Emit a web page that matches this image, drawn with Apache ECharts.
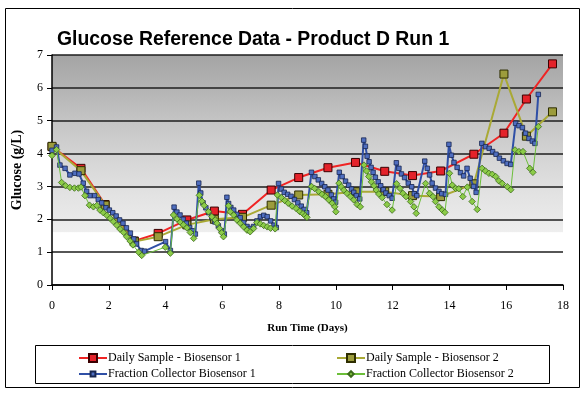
<!DOCTYPE html>
<html>
<head>
<meta charset="utf-8">
<script src="https://cdn.jsdelivr.net/npm/echarts@6/dist/echarts.min.js"></script>
<style>
html,body{margin:0;padding:0;background:#fff;}
#chart{width:586px;height:396px;}
</style>
</head>
<body>
<div id="chart"></div>
<script>
// ---- Data ----
const titleText = 'Glucose Reference Data - Product D Run 1';
const seriesNames = ['Daily Sample - Biosensor 1', 'Daily Sample - Biosensor 2',
                     'Fraction Collector Biosensor 1', 'Fraction Collector Biosensor 2'];

const dailyDays = [0, 1.02, 1.87, 2.9, 3.74, 4.75, 5.72, 6.71, 7.72, 8.69, 9.72, 10.69, 11.72, 12.7, 13.69, 14.86, 15.92, 16.71, 17.63];
const daily1Vals = [4.21, 3.55, 2.45, 1.34, 1.57, 1.98, 2.25, 2.15, 2.89, 3.27, 3.57, 3.73, 3.46, 3.33, 3.47, 3.98, 4.62, 5.66, 6.73];
const daily2Vals = [4.22, 3.48, 2.43, 1.32, 1.47, 1.83, 2.0, 2.06, 2.43, 2.74, 2.76, 2.84, 2.84, 2.72, 2.69, 3.08, 6.42, 4.53, 5.27];

const fc1Days = [0, 0.16, 0.28, 0.46, 0.63, 0.81, 0.95, 1.1, 1.22, 1.34, 1.5, 1.63, 1.75, 1.9, 2.02, 2.14, 2.26, 2.38, 2.5, 2.62, 2.76, 2.88, 2.98, 3.14, 3.26, 4.0, 4.17,
  4.3, 4.4, 4.51, 4.62, 4.73, 4.85, 4.95, 5.05,
  5.17, 5.24, 5.32, 5.42, 5.52, 5.63, 5.74, 5.86, 5.97, 6.07,
  6.16, 6.22, 6.3, 6.4, 6.51, 6.63, 6.75, 6.87, 6.98, 7.1, 7.22, 7.34, 7.46, 7.58, 7.7, 7.82, 7.9,
  7.98, 8.08, 8.18, 8.3, 8.42, 8.54, 8.66, 8.78, 8.88, 8.97,
  9.14, 9.26, 9.38, 9.5, 9.61, 9.72, 9.84, 9.92, 9.99,
  10.12, 10.22, 10.34, 10.45, 10.55, 10.63, 10.72, 10.84,
  10.98, 11.04, 11.1, 11.17, 11.24, 11.31, 11.39, 11.49, 11.58, 11.67, 11.76, 11.88, 11.98,
  12.13, 12.22, 12.31, 12.42, 12.55, 12.67, 12.76, 12.85,
  13.13, 13.22, 13.3, 13.39, 13.51, 13.63, 13.73, 13.86,
  13.98, 14.07, 14.16, 14.27, 14.39, 14.5, 14.62, 14.73, 14.85, 14.94,
  15.14, 15.27, 15.4, 15.52, 15.64, 15.76, 15.9, 16.03, 16.16,
  16.33, 16.45, 16.57, 16.68, 16.8, 16.92, 17.01, 17.13];
const fc1Vals = [4.1, 4.2, 3.65, 3.55, 3.35, 3.4, 3.38, 3.1, 2.85, 2.72, 2.72, 2.6, 2.5, 2.35, 2.28, 2.2, 2.1, 1.98, 1.88, 1.74, 1.58, 1.4, 1.25, 1.05, 1.03, 1.32, 1.05,
  2.37, 2.22, 2.13, 2.0, 1.88, 1.75, 1.65, 1.55,
  3.1, 2.8, 2.5, 2.35, 2.2, 2.05, 1.92, 1.8, 1.65, 1.55,
  2.67, 2.48, 2.36, 2.28, 2.15, 2.05, 1.9, 1.78, 1.72, 1.78, 1.95, 2.08, 2.12, 2.08, 1.95, 1.82, 1.75,
  3.09, 2.92, 2.82, 2.76, 2.7, 2.6, 2.5, 2.4, 2.3, 2.2,
  3.43, 3.3, 3.2, 3.09, 2.99, 2.89, 2.74, 2.62, 2.52,
  3.43, 3.3, 3.16, 3.04, 2.92, 2.82, 2.72, 2.62,
  4.41, 4.22, 3.92, 3.75, 3.58, 3.43, 3.28, 3.14, 3.02, 2.9, 2.8, 2.72, 2.64,
  3.72, 3.55, 3.38, 3.27, 3.1, 2.99, 2.78, 2.72,
  3.77, 3.55, 3.35, 3.1, 2.95, 2.85, 2.78, 2.76,
  4.28, 3.95, 3.73, 3.58, 3.42, 3.32, 3.55, 3.25, 3.0, 2.82,
  4.31, 4.21, 4.16, 4.06, 3.98, 3.86, 3.78, 3.7, 3.67,
  4.92, 4.85, 4.79, 4.62, 4.46, 4.38, 4.31, 5.8];

const fc2Days = [0, 0.16, 0.34, 0.48, 0.63, 0.79, 0.93, 1.02, 1.16, 1.32, 1.46, 1.58, 1.69, 1.81, 1.93, 2.05, 2.16, 2.28, 2.4, 2.52, 2.63, 2.75, 2.85, 3.05, 3.16, 3.99, 4.17,
  4.28, 4.4, 4.52, 4.63, 4.75, 4.87, 4.99,
  5.19, 5.28, 5.36, 5.51, 5.63, 5.75, 5.81, 5.9, 5.98, 6.04,
  6.22, 6.28, 6.4, 6.51, 6.63, 6.75, 6.87, 6.98, 7.1, 7.22, 7.34, 7.46, 7.58, 7.7, 7.86,
  7.94, 8.08, 8.2, 8.32, 8.46, 8.6, 8.72, 8.84, 8.92, 8.98,
  9.14, 9.25, 9.4, 9.51, 9.63, 9.75, 9.87, 9.96, 10.0,
  10.11, 10.19, 10.28, 10.39, 10.51, 10.63, 10.75, 10.86,
  10.99, 11.08, 11.16, 11.25, 11.34, 11.42, 11.51, 11.63, 11.8, 11.98,
  12.14, 12.26, 12.36, 12.47, 12.63, 12.75, 12.83,
  13.16, 13.3, 13.42, 13.51, 13.63, 13.75, 13.84,
  14.0, 14.1, 14.22, 14.33, 14.47, 14.63, 14.8, 14.98,
  15.15, 15.27, 15.39, 15.51, 15.63, 15.74, 15.86, 16.04, 16.16,
  16.31, 16.45, 16.59, 16.83, 16.94, 17.13];
const fc2Vals = [3.94, 4.12, 3.12, 3.02, 2.97, 2.95, 2.95, 2.98, 2.72, 2.43, 2.38, 2.42, 2.28, 2.2, 2.12, 2.03, 1.93, 1.82, 1.7, 1.6, 1.47, 1.34, 1.22, 1.0, 0.9, 1.15, 0.97,
  2.13, 2.01, 1.91, 1.83, 1.74, 1.6, 1.42,
  2.73, 2.55, 2.42, 2.23, 2.08, 1.98, 1.88, 1.72, 1.59, 1.47,
  2.41, 2.23, 2.13, 1.98, 1.88, 1.77, 1.67, 1.62, 1.72, 1.9, 1.86, 1.81, 1.77, 1.73, 1.71,
  2.74, 2.66, 2.57, 2.49, 2.4, 2.33, 2.24, 2.17, 2.11, 2.06,
  3.0, 2.94, 2.84, 2.76, 2.69, 2.59, 2.49, 2.38, 2.23,
  3.1, 2.99, 2.89, 2.79, 2.69, 2.59, 2.45, 2.38,
  3.65, 3.47, 3.3, 3.14, 3.02, 2.89, 2.77, 2.66, 2.45, 2.28,
  3.08, 2.94, 2.79, 2.69, 2.54, 2.38, 2.18,
  3.09, 2.79, 2.69, 2.54, 2.38, 2.28, 2.21,
  3.4, 3.04, 2.94, 2.93, 2.69, 2.98, 2.54, 2.3,
  3.55, 3.47, 3.4, 3.37, 3.3, 3.17, 3.09, 2.99, 2.9,
  4.11, 4.06, 4.06, 3.55, 3.43, 4.82];

const xTicks = [0, 2, 4, 6, 8, 10, 12, 14, 16, 18];
const yTicks = [0, 1, 2, 3, 4, 5, 6, 7];

// ---- Build ----
function zip(xs, ys) { return xs.map((x, i) => [x, ys[i]]); }

const chart = echarts.init(document.getElementById('chart'), null, {renderer: 'canvas'});
const serif = "'Liberation Serif','Times New Roman',serif";
const sans = "'Liberation Sans',Arial,sans-serif";

function legendItem(name, left, top, h) {
  return {
    data: [name], left: left, top: top, padding: 0,
    itemWidth: 28, itemHeight: h,
    textStyle: {fontFamily: serif, fontSize: 12, color: '#000', padding: [0, 0, 0, -4]}
  };
}

const option = {
  animation: false,
  backgroundColor: '#ffffff',
  title: {
    text: titleText,
    left: 52, top: 25,
    textStyle: {fontFamily: sans, fontWeight: 'bold', fontSize: 19.4, color: '#000'}
  },
  grid: {
    left: 52, right: 23, top: 55, bottom: 111,
    show: true, borderWidth: 0,
    backgroundColor: {
      type: 'linear', x: 0, y: 0, x2: 0, y2: 1,
      colorStops: [
        {offset: 0, color: '#a4a4a4'},
        {offset: 0.14, color: '#b3b3b3'},
        {offset: 0.3, color: '#c6c6c6'},
        {offset: 0.45, color: '#d5d5d5'},
        {offset: 0.6, color: '#e2e2e2'},
        {offset: 0.77, color: '#eeeeee'},
        {offset: 0.772, color: '#ffffff'},
        {offset: 1, color: '#ffffff'}
      ]
    }
  },
  xAxis: {
    type: 'value', min: xTicks[0], max: xTicks[xTicks.length - 1], interval: 2,
    name: 'Run Time (Days)', nameLocation: 'middle', nameGap: 38,
    nameTextStyle: {fontFamily: serif, fontWeight: 'bold', fontSize: 11, color: '#000'},
    axisLine: {lineStyle: {color: '#000', width: 1.5}},
    axisTick: {show: true, length: 5, inside: false, lineStyle: {color: '#000'}},
    axisLabel: {fontFamily: serif, fontSize: 12, color: '#000', margin: 15},
    splitLine: {show: false}
  },
  yAxis: {
    type: 'value', min: yTicks[0], max: yTicks[yTicks.length - 1], interval: 1,
    name: 'Glucose (g/L)', nameLocation: 'middle', nameGap: 28, nameRotate: 90,
    nameTextStyle: {fontFamily: serif, fontWeight: 'bold', fontSize: 14, color: '#000'},
    axisLine: {show: true, lineStyle: {color: '#000', width: 1.5}},
    axisTick: {show: true, length: 5, lineStyle: {color: '#000'}},
    axisLabel: {fontFamily: serif, fontSize: 12, color: '#000', margin: 9},
    splitLine: {show: true, lineStyle: {color: '#1e1e1e', width: 1.5}}
  },
  legend: [
    legendItem(seriesNames[0], 78, 352, 10),
    legendItem(seriesNames[1], 336, 352, 10),
    legendItem(seriesNames[2], 78, 368, 6),
    legendItem(seriesNames[3], 336, 368, 7)
  ],
  graphic: [
    {type: 'rect', shape: {x: 5.5, y: 8.5, width: 574, height: 379}, style: {fill: 'none', stroke: '#000', lineWidth: 1}, z: -1},
    {type: 'rect', shape: {x: 35.5, y: 345.5, width: 514, height: 38}, style: {fill: 'none', stroke: '#000', lineWidth: 1}}
  ],
  series: [
    {
      name: seriesNames[0], type: 'line', data: zip(dailyDays, daily1Vals),
      symbol: 'rect', symbolSize: 8,
      lineStyle: {color: '#f02424', width: 2},
      itemStyle: {color: '#e4222a', borderColor: '#3a0000', borderWidth: 1}, z: 2
    },
    {
      name: seriesNames[1], type: 'line', data: zip(dailyDays, daily2Vals),
      symbol: 'rect', symbolSize: 8,
      lineStyle: {color: '#a9a935', width: 2},
      itemStyle: {color: '#9c9c3c', borderColor: '#2e2e00', borderWidth: 1}, z: 3
    },
    {
      name: seriesNames[2], type: 'line', data: zip(fc1Days, fc1Vals),
      symbol: 'rect', symbolSize: 4.5,
      lineStyle: {color: '#2f4fa6', width: 2},
      itemStyle: {color: '#4f6ec0', borderColor: '#18264f', borderWidth: 0.8}, z: 4
    },
    {
      name: seriesNames[3], type: 'line', data: zip(fc2Days, fc2Vals),
      symbol: 'diamond', symbolSize: 6.5,
      lineStyle: {color: '#6cbf3a', width: 1},
      itemStyle: {color: '#8ccc48', borderColor: '#3c6a1c', borderWidth: 0.8}, z: 5
    }
  ]
};
chart.setOption(option);
</script>
</body>
</html>
